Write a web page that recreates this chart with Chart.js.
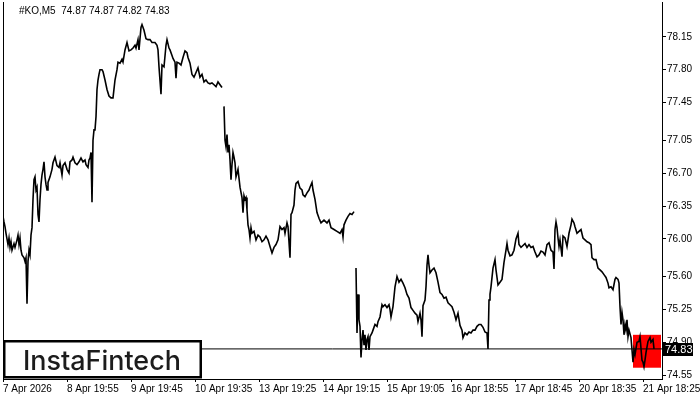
<!DOCTYPE html>
<html>
<head>
<meta charset="utf-8">
<script src="https://cdn.jsdelivr.net/npm/chart.js@4.4.1/dist/chart.umd.min.js"></script>
<style>
  html, body { margin: 0; padding: 0; background: #fff; }
  canvas { display: block; }
</style>
</head>
<body>
<canvas id="chart" width="700" height="400"></canvas>
<script>
// ── Data ─────────────────────────────────────────────────────────────────────

const symbolTitle = '#KO,M5  74.87 74.87 74.82 74.83';
const lastPrice = 74.83;

// x tick positions (M5 bar index) and their labels
const tickBars   = [0, 64, 128, 192, 256, 320, 384, 448, 512, 576, 640];
const tickLabels = ['7 Apr 2026', '8 Apr 19:55', '9 Apr 19:45', '10 Apr 19:35', '13 Apr 19:25',
                    '14 Apr 19:15', '15 Apr 19:05', '16 Apr 18:55', '17 Apr 18:45', '20 Apr 18:35', '21 Apr 18:25'];
const priceTicks = [78.15, 77.80, 77.45, 77.05, 76.70, 76.35, 76.00, 75.60, 75.25, 74.90, 74.55];

// highlighted pattern zone (bar range / price range)
const patternBars   = [630, 658];
const patternPrices = [74.63, 74.98];

// close prices, null = gap in data
const barIndex = [
  0, 1, 2, 3, 5, 6, 7, 8, 9, 11,
  12, 14, 15, 16, 17, 18, 19, 21, 22, 23,
  24, 25, 26, 27, 28, 29, 30, 31, 32, 33,
  34, 35, 36, 37, 38, 39, 40, 41, 42, 43,
  44, 45, 47, 49, 50, 52, 54, 56, 57, 59,
  60, 62, 64, 66, 67, 69, 70, 72, 74, 76,
  78, 80, 82, 83, 85, 86, 87, 88, 89, 90,
  91, 92, 93, 94, 95, 96, 97, 99, 100, 102,
  104, 106, 108, 110, 112, 114, 115, 117, 119, 120,
  122, 124, 126, 128, 130, 132, 133, 135, 136, 138,
  139, 141, 143, 145, 147, 149, 152, 154, 155, 156,
  158, 159, 161, 163, 164, 166, 167, 169, 170, 172,
  173, 174, 176, 178, 180, 182, 184, 185, 187, 189,
  191, 193, 195, 197, 199, 201, 203, 205, 207, 209,
  211, 213, 215, 217, 219,
  220,
  221, 222, 223, 224, 225, 226, 227, 228, 229, 230,
  231, 232, 233, 235, 237, 239, 240, 241, 242, 243,
  244, 245, 246, 247, 248, 249, 251, 253, 255, 257,
  259, 261, 263, 265, 267, 269, 271, 273, 275, 277,
  279, 281, 282, 284, 285, 287, 288, 289, 291, 292,
  293, 295, 297, 299, 300, 302, 304, 306, 307, 309,
  310, 312, 314, 316, 318, 321, 324, 326, 328, 331,
  334, 337, 339, 340, 341, 343, 345, 347, 349, 351,
  352,
  353, 354, 355, 356, 357, 358, 359, 360, 361, 362,
  363, 364, 365, 366, 367, 369, 370, 372, 374, 375,
  377, 379, 380, 382, 384, 386, 387, 388, 390, 392,
  394, 396, 398, 400, 402, 404, 406, 408, 410, 412,
  414, 415, 417, 418, 419, 420, 422, 423, 424, 425,
  426, 427, 429, 431, 433, 435, 437, 439, 441, 443,
  445, 447, 449, 451, 453, 455, 457, 459, 460, 462,
  464, 466, 468, 470, 472, 474, 476, 478, 480, 482,
  484, 485, 486, 487, 488, 490, 492, 493, 495, 497,
  499, 501, 503, 504, 505, 507, 509, 511, 513, 515,
  516, 518, 520, 522, 524, 526, 528, 530, 532, 534,
  536, 538, 540, 542, 544, 546, 548, 550, 551, 552,
  553, 554, 555, 556, 557, 559, 560, 562, 564, 566,
  568, 569, 571, 572, 574, 576, 578, 580, 582, 584,
  586, 588, 589, 591, 593, 595, 597, 599, 601, 603,
  605, 606, 608, 610, 612, 613, 615, 616, 617, 618,
  619, 620, 621, 622, 623, 624, 625, 626, 628, 629,
  630, 631, 632, 634, 636, 637, 639, 640, 641, 642,
  643, 645, 647, 648, 650, 651,
];
const closePrice = [
  76.24, 76.18, 76.13, 76.06, 75.94, 76.01, 75.91, 75.97, 75.88, 75.95,
  75.91, 75.99, 76.04, 75.94, 76.01, 75.88, 75.83, 75.80, 75.76, 75.80,
  75.31, 75.76, 75.88, 75.83, 76.04, 76.12, 76.42, 76.63, 76.66, 76.52,
  76.55, 76.26, 76.18, 76.42, 76.58, 76.68, 76.74, 76.82, 76.66, 76.58,
  76.52, 76.60, 76.66, 76.74, 76.81, 76.87, 76.78, 76.76, 76.81, 76.68,
  76.78, 76.81, 76.74, 76.70, 76.82, 76.84, 76.87, 76.81, 76.79, 76.82,
  76.86, 76.82, 76.84, 76.79, 76.76, 76.84, 76.86, 76.92, 76.39, 77.05,
  77.16, 77.16, 77.30, 77.59, 77.69, 77.75, 77.80, 77.80, 77.78, 77.69,
  77.59, 77.52, 77.50, 77.50, 77.69, 77.80, 77.88, 77.87, 77.91, 77.88,
  78.01, 78.09, 78.00, 78.01, 78.03, 78.06, 78.03, 78.12, 78.01, 78.25,
  78.28, 78.22, 78.13, 78.12, 78.12, 78.09, 78.09, 78.06, 78.01, 77.83,
  77.54, 77.85, 77.83, 78.06, 78.12, 78.03, 78.01, 77.95, 77.92, 77.88,
  77.71, 77.88, 77.87, 77.85, 77.93, 78.00, 77.98, 77.93, 77.87, 77.75,
  77.72, 77.77, 77.82, 77.72, 77.75, 77.67, 77.69, 77.66, 77.65, 77.66,
  77.64, 77.62, 77.67, 77.64, 77.61,
  null,
  77.41, 77.05, 76.98, 77.11, 76.92, 77.00, 76.84, 76.63, 76.79, 76.92,
  76.87, 76.81, 76.66, 76.74, 76.55, 76.44, 76.28, 76.46, 76.42, 76.44,
  76.31, 76.15, 76.10, 76.01, 76.12, 76.06, 76.08, 75.99, 76.04, 76.02,
  75.97, 75.99, 76.03, 75.99, 75.92, 75.85, 75.91, 75.94, 75.99, 76.13,
  76.10, 76.12, 76.06, 76.17, 76.13, 75.80, 76.26, 76.28, 76.36, 76.52,
  76.59, 76.61, 76.54, 76.52, 76.47, 76.45, 76.49, 76.52, 76.55, 76.60,
  76.52, 76.42, 76.28, 76.22, 76.17, 76.20, 76.17, 76.20, 76.12, 76.10,
  76.08, 76.06, 76.10, 76.02, 76.15, 76.20, 76.24, 76.27, 76.26, 76.29,
  null,
  75.69, 75.00, 75.41, 75.14, 75.07, 74.74, 74.93, 75.03, 74.87, 74.98,
  74.82, 74.93, 74.96, 74.82, 74.96, 75.00, 75.03, 75.09, 75.07, 75.12,
  75.17, 75.30, 75.28, 75.30, 75.27, 75.30, 75.25, 75.17, 75.28, 75.49,
  75.60, 75.54, 75.57, 75.53, 75.48, 75.41, 75.37, 75.27, 75.24, 75.21,
  75.19, 75.12, 75.21, 75.14, 74.96, 75.29, 75.35, 75.49, 75.72, 75.83,
  75.72, 75.64, 75.67, 75.69, 75.64, 75.54, 75.43, 75.41, 75.37, 75.38,
  75.32, 75.30, 75.28, 75.22, 75.14, 75.21, 75.08, 75.03, 74.95, 75.00,
  74.98, 75.01, 75.00, 75.03, 75.03, 75.07, 75.09, 75.09, 75.06, 75.01,
  75.00, 74.83, 75.35, 75.41, 75.49, 75.69, 75.78, 75.67, 75.51, 75.54,
  75.57, 75.75, 75.88, 75.95, 75.88, 75.82, 75.83, 75.88, 76.00, 76.06,
  75.94, 75.91, 75.93, 75.95, 75.91, 75.94, 75.91, 75.92, 75.86, 75.81,
  75.83, 75.87, 75.86, 75.83, 75.94, 75.96, 75.88, 75.86, 75.68, 76.10,
  76.18, 76.12, 76.01, 75.92, 75.99, 75.81, 76.03, 76.01, 75.92, 76.06,
  76.15, 76.21, 76.17, 76.13, 76.06, 76.08, 76.10, 76.01, 75.99, 75.97,
  75.96, 75.94, 75.80, 75.78, 75.78, 75.69, 75.67, 75.65, 75.62, 75.59,
  75.53, 75.48, 75.49, 75.46, 75.57, 75.59, 75.57, 75.53, 75.28, 75.09,
  75.22, 75.14, 74.98, 75.09, 75.03, 75.14, 74.96, 75.03, 74.95, 74.82,
  74.69, 74.82, 74.77, 74.90, 74.91, 74.96, 74.71, 74.69, 74.64, 74.71,
  74.79, 74.91, 74.95, 74.90, 74.93, 74.83,
];

// ── Overlays ─────────────────────────────────────────────────────────────────

const FONT = '"Liberation Sans", Arial, sans-serif';

const overlays = {
  id: 'overlays',
  beforeDatasetsDraw(chart) {
    const { ctx, scales: { x, y } } = chart;
    // red pattern zone
    const x0 = x.getPixelForValue(patternBars[0]), x1 = x.getPixelForValue(patternBars[1]);
    const y0 = y.getPixelForValue(patternPrices[1]), y1 = y.getPixelForValue(patternPrices[0]);
    ctx.save();
    ctx.fillStyle = '#ff0000';
    ctx.fillRect(x0, y0, x1 - x0, y1 - y0);
    ctx.restore();
  },
  afterDraw(chart) {
    const { ctx, chartArea: a, scales: { y } } = chart;
    ctx.save();
    // left frame line
    ctx.strokeStyle = '#000';
    ctx.lineWidth = 1;
    ctx.beginPath();
    ctx.moveTo(a.left + 0.5, a.top);
    ctx.lineTo(a.left + 0.5, a.bottom);
    ctx.stroke();

    // header
    ctx.fillStyle = '#000';
    ctx.font = `10px ${FONT}`;
    ctx.textBaseline = 'middle';
    ctx.textAlign = 'left';
    ctx.fillText(symbolTitle, 19, 11);

    // current price label
    const py = Math.round(y.getPixelForValue(lastPrice));
    ctx.fillStyle = '#000';
    ctx.fillRect(a.right, py - 6, 31, 13);
    ctx.fillStyle = '#fff';
    ctx.font = `11px ${FONT}`;
    ctx.fillText(lastPrice.toFixed(2), a.right + 3, py + 1);

    // logo box
    ctx.fillStyle = '#fff';
    ctx.fillRect(4, 341, 197, 36);
    ctx.strokeStyle = '#000';
    ctx.lineWidth = 2.5;
    ctx.strokeRect(4.25, 341.25, 196.5, 36);
    ctx.fillStyle = '#1c1c1c';
    ctx.textBaseline = 'alphabetic';
    let size = 28;
    ctx.font = `500 ${size}px Inter, "Noto Sans", sans-serif`;
    size = size * 158 / ctx.measureText('InstaFintech').width;
    ctx.font = `500 ${size}px Inter, "Noto Sans", sans-serif`;
    ctx.fillText('InstaFintech', 23, 370);
    ctx.restore();
  },
};

// ── Chart ────────────────────────────────────────────────────────────────────

const points = barIndex.map((b, i) => ({ x: b, y: closePrice[i] }));

new Chart(document.getElementById('chart'), {
  type: 'line',
  data: {
    datasets: [
      {
        data: points,
        borderColor: '#000',
        borderWidth: 1.6,
        pointRadius: 0,
        tension: 0,
        spanGaps: false,
      },
      {
        data: [{ x: 0, y: lastPrice }, { x: 659, y: lastPrice }],
        borderColor: '#000',
        borderWidth: 1,
        pointRadius: 0,
      },
    ],
  },
  options: {
    responsive: false,
    animation: false,
    devicePixelRatio: 1,
    layout: { autoPadding: false, padding: { left: 3, top: 2, right: 0, bottom: 0 } },
    plugins: { legend: { display: false }, tooltip: { enabled: false } },
    scales: {
      x: {
        type: 'linear',
        min: 0,
        max: 659,
        afterBuildTicks: s => { s.ticks = tickBars.map(v => ({ value: v })); },
        afterFit: s => { s.height = 21; s.paddingLeft = 0; s.paddingRight = 0; },
        grid: { drawOnChartArea: false, tickLength: 3, color: '#000' },
        border: { display: true, color: '#000' },
        ticks: {
          autoSkip: false,
          maxRotation: 0,
          align: 'start',
          padding: 1,
          color: '#000',
          font: { family: FONT, size: 10 },
          callback: (v) => tickLabels[tickBars.indexOf(v)] ?? '',
        },
      },
      y: {
        position: 'right',
        min: 74.51,
        max: 78.52,
        afterBuildTicks: s => { s.ticks = priceTicks.map(v => ({ value: v })); },
        afterFit: s => { s.width = 38; s.paddingTop = 0; s.paddingBottom = 0; },
        grid: { drawOnChartArea: false, tickLength: 4, color: '#000' },
        border: { display: true, color: '#000' },
        ticks: {
          padding: 1,
          color: '#000',
          font: { family: FONT, size: 10 },
          callback: v => v.toFixed(2),
        },
      },
    },
  },
  plugins: [overlays],
});
</script>
</body>
</html>
